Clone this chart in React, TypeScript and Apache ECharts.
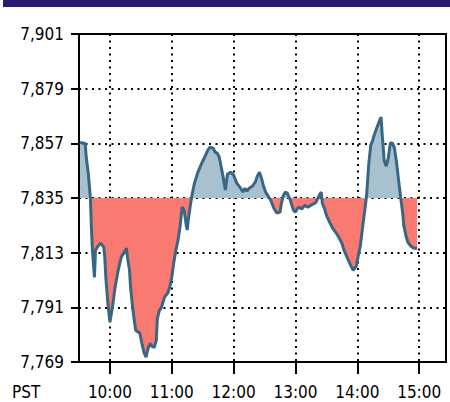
import React, { useEffect, useRef } from "react";
import * as echarts from "echarts";

// Intraday index (PST), previous close as baseline
const BASELINE = 7835;
const Y_MIN = 7769;
const Y_MAX = 7901;
const Y_STEP = 22;
const X_TICKS = ["10:00", "11:00", "12:00", "13:00", "14:00", "15:00"];
const X_START = "9:30";
const X_END = "15:26";

const times = [
  "9:31", "9:34", "9:36", "9:37", "9:39", "9:41", "9:42", "9:43", "9:45", "9:46",
  "9:49", "9:51", "9:54", "9:55", "9:56", "9:58", "10:00", "10:03", "10:05", "10:08",
  "10:11", "10:15", "10:16", "10:17", "10:19", "10:20", "10:22", "10:24", "10:25", "10:29",
  "10:31", "10:33", "10:35", "10:37", "10:39", "10:41", "10:43", "10:45", "10:46", "10:48",
  "10:50", "10:53", "10:56", "10:58", "11:00", "11:02", "11:04", "11:06", "11:08", "11:10",
  "11:12", "11:14", "11:15", "11:16", "11:18", "11:20", "11:22", "11:25", "11:29", "11:32",
  "11:35", "11:37", "11:40", "11:42", "11:44", "11:46", "11:48", "11:50", "11:52", "11:54",
  "11:57", "12:00", "12:03", "12:06", "12:09", "12:11", "12:13", "12:15", "12:18", "12:21",
  "12:23", "12:25", "12:27", "12:29", "12:31", "12:33", "12:36", "12:39", "12:42", "12:45",
  "12:46", "12:48", "12:50", "12:52", "12:55", "12:58", "13:00", "13:02", "13:04", "13:06",
  "13:09", "13:12", "13:15", "13:17", "13:20", "13:23", "13:25", "13:26", "13:28", "13:30",
  "13:33", "13:36", "13:39", "13:42", "13:45", "13:47", "13:50", "13:53", "13:56", "13:59",
  "14:01", "14:03", "14:05", "14:07", "14:09", "14:11", "14:13", "14:15", "14:16", "14:18",
  "14:21", "14:23", "14:24", "14:26", "14:28", "14:30", "14:32", "14:34", "14:36", "14:38",
  "14:40", "14:42", "14:44", "14:45", "14:47", "14:49", "14:52", "14:55", "14:58"
];

const values = [
  7857.5, 7857.0, 7857.0, 7851.5, 7845.0, 7835.3, 7823.3, 7814.0, 7803.1, 7814.0,
  7816.0, 7816.8, 7815.2, 7811.2, 7803.1, 7792.6, 7785.0, 7792.6, 7799.1, 7805.9,
  7811.2, 7814.0, 7814.8, 7811.2, 7805.9, 7799.1, 7791.0, 7784.6, 7781.8, 7780.6,
  7776.5, 7772.9, 7770.9, 7774.5, 7776.5, 7775.3, 7774.9, 7777.7, 7786.6, 7789.8,
  7791.0, 7795.1, 7796.7, 7799.1, 7803.1, 7809.2, 7814.0, 7818.0, 7823.3, 7831.3,
  7830.1, 7824.1, 7822.1, 7826.1, 7832.1, 7837.0, 7841.0, 7845.0, 7849.0, 7851.5,
  7854.3, 7855.5, 7855.1, 7853.5, 7853.1, 7851.5, 7847.4, 7843.0, 7838.2, 7844.6,
  7845.4, 7844.2, 7841.0, 7839.4, 7837.4, 7838.9, 7837.8, 7838.9, 7839.7, 7841.4,
  7843.8, 7845.4, 7843.0, 7839.7, 7837.4, 7836.1, 7834.1, 7830.9, 7828.9, 7829.3,
  7832.1, 7835.7, 7837.4, 7837.0, 7834.1, 7830.1, 7829.3, 7830.9, 7831.3, 7830.5,
  7832.1, 7831.3, 7832.1, 7832.5, 7833.3, 7836.1, 7837.4, 7832.9, 7830.9, 7828.1,
  7825.3, 7822.9, 7821.2, 7819.2, 7816.8, 7814.0, 7811.2, 7808.4, 7805.9, 7807.6,
  7812.0, 7816.0, 7822.9, 7829.3, 7836.1, 7848.2, 7856.3, 7858.3, 7859.9, 7862.3,
  7865.6, 7867.6, 7861.1, 7850.2, 7847.8, 7851.1, 7857.1, 7857.1, 7855.1, 7849.4,
  7842.2, 7835.3, 7828.9, 7824.1, 7820.0, 7817.2, 7815.6, 7814.8, 7814.8
];

const FONT = '"DejaVu Sans Condensed", "Liberation Sans", sans-serif';
const FONT_SIZE = 17;
const UP_FILL = "#a7c1ce";
const DOWN_FILL = "#f97a70";
const LINE = "#386784";

const toMin = (t: string) => {
  const [h, m] = t.split(":").map(Number);
  return h * 60 + m;
};
const fmtTime = (v: number) => {
  const h = Math.floor(v / 60);
  const m = v % 60;
  return `${h}:${m < 10 ? "0" + m : m}`;
};

export default function App() {
  const ref = useRef<HTMLDivElement>(null);
  useEffect(() => {
    if (!ref.current) return;
    const chart = echarts.init(ref.current, null, { renderer: "svg" });
    const start = toMin(X_START);
    const end = toMin(X_END);
    const categories: string[] = [];
    for (let m = start; m <= end; m++) categories.push(fmtTime(m));
    const tickSet = new Set(X_TICKS);
    const isTick = (_i: number, v: string) => tickSet.has(v);

    const n = Math.min(times.length, values.length);
    const data: number[][] = [];
    for (let i = 0; i < n; i++) data.push([toMin(times[i]) - start, values[i] - Y_MIN]);
    const base = BASELINE - Y_MIN;
    const dotted = { color: "#000", width: 2, type: [2, 4.5] as number[] };

    chart.setOption({
      animation: false,
      backgroundColor: "#fff",
      grid: {
        left: 79,
        right: 4,
        top: 34,
        bottom: 40,
        show: true,
        borderColor: "#000",
        borderWidth: 2,
        backgroundColor: "transparent",
      },
      xAxis: {
        type: "category",
        data: categories,
        boundaryGap: false,
        axisLine: { show: true, lineStyle: { color: "#000", width: 2 } },
        axisTick: {
          show: true,
          length: 12,
          interval: isTick,
          lineStyle: { color: "#000", width: 2 },
        },
        axisLabel: {
          interval: isTick,
          color: "#000",
          fontFamily: FONT,
          fontSize: FONT_SIZE,
          margin: 21,
        },
        splitLine: { show: true, interval: isTick, lineStyle: dotted },
      },
      yAxis: {
        type: "value",
        min: 0,
        max: Y_MAX - Y_MIN,
        interval: Y_STEP,
        axisLine: { show: true, lineStyle: { color: "#000", width: 2 } },
        axisTick: { show: true, length: 8, lineStyle: { color: "#000", width: 2 } },
        axisLabel: {
          formatter: (v: number) => (v + Y_MIN).toLocaleString("en-US"),
          color: "#000",
          fontFamily: FONT,
          fontSize: FONT_SIZE,
          margin: 15,
        },
        splitLine: { show: true, lineStyle: dotted },
      },
      graphic: [
        {
          type: "rect",
          left: 3,
          top: 0,
          shape: { width: 447, height: 7 },
          style: { fill: "#2b1b6e" },
        },
        {
          type: "text",
          left: 12,
          top: 383,
          style: { text: "PST", fill: "#000", font: `${FONT_SIZE}px ${FONT}` },
        },
      ],
      series: [
        {
          type: "line",
          data,
          showSymbol: false,
          lineStyle: { width: 0, opacity: 0 },
          areaStyle: { origin: base, opacity: 1, color: DOWN_FILL },
          z: 2,
        },
        {
          type: "line",
          data,
          showSymbol: false,
          lineStyle: { color: LINE, width: 3 },
          itemStyle: { color: LINE },
          z: 3,
        },
      ],
    });

    const yBase = chart.convertToPixel({ yAxisIndex: 0 }, base) as number;
    const H = 402;
    const off = Math.max(0, Math.min(1, yBase / H));
    chart.setOption({
      series: [
        {
          areaStyle: {
            origin: base,
            opacity: 1,
            color: {
              type: "linear",
              x: 0,
              y: 0,
              x2: 0,
              y2: H,
              global: true,
              colorStops: [
                { offset: 0, color: UP_FILL },
                { offset: off, color: UP_FILL },
                { offset: off, color: DOWN_FILL },
                { offset: 1, color: DOWN_FILL },
              ],
            },
          },
        },
        {},
      ],
    });
    return () => chart.dispose();
  }, []);
  return <div ref={ref} style={{ width: 450, height: 402, position: "absolute", left: 0, top: 0 }} />;
}
